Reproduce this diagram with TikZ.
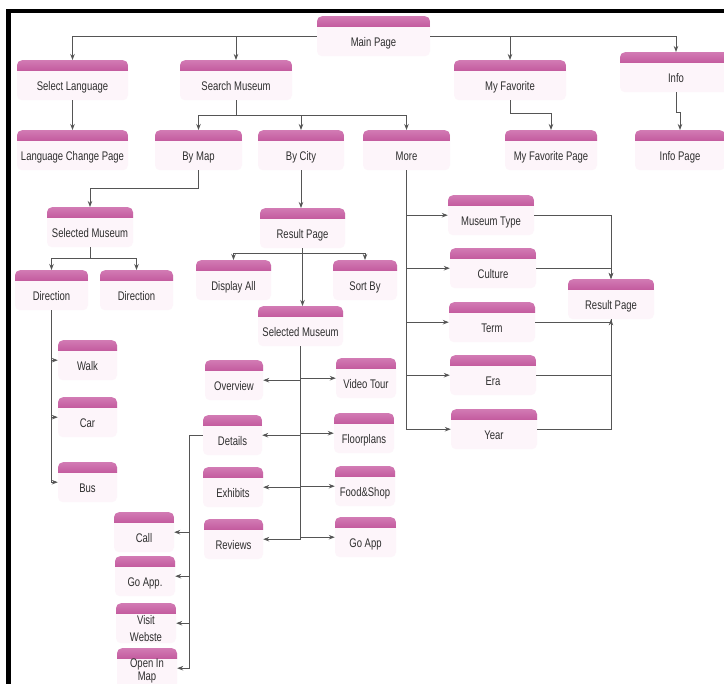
\documentclass[tikz,border=0pt]{standalone}
\usepackage{fontspec}
\newfontfamily\pagefont{Liberation Sans}[FakeStretch=0.76]
\usetikzlibrary{arrows.meta}
\definecolor{tabtop}{HTML}{D27AB4}
\definecolor{tabmid}{HTML}{B63F8A}
\definecolor{tabbot}{HTML}{7C2460}
\definecolor{pagebody}{HTML}{FDF5FA}
\definecolor{pagetext}{HTML}{2E2E2E}
\definecolor{linkcol}{HTML}{555555}
\tikzset{
  page/.style={anchor=north, rectangle, rounded corners=5pt, fill=pagebody,
    minimum height=40pt, inner ysep=0pt, inner xsep=1pt,
    text height=30pt, text depth=10pt, text=pagetext,
    font=\pagefont\fontsize{12.5}{15}\selectfont,
    path picture={\shade[sharp corners, top color=tabtop, bottom color=tabbot, middle color=tabmid]
      (path picture bounding box.north west) rectangle ([yshift=-10pt]path picture bounding box.north east);}},
  twoline/.style={text height=21.5pt, text depth=18.5pt},
  tightlines/.style={text height=19pt, text depth=21pt},
  link/.style={draw=linkcol, line width=0.9pt, -{Stealth[length=6pt,width=4.5pt]}},
  wire/.style={draw=linkcol, line width=0.9pt}
}
\newcommand{\twolines}[3][1.4pt]{\begin{tabular}[t]{@{}c@{}}#2\\[#1]#3\end{tabular}}
\begin{document}
\begin{tikzpicture}[x=1pt,y=-1pt]
\useasboundingbox (0,0) rectangle (724,684);
\fill[white] (0,0) rectangle (724,684);
\fill[black] (6,9) rectangle (11,684);
\fill[black] (6,9) rectangle (724,13);
% top levels
\node [page, minimum width=113pt] (main) at (373.5,16) {Main Page};
\node [page, minimum width=111pt] (sellang) at (72.5,60) {Select Language};
\node [page, minimum width=112pt] (search) at (236,60) {Search Museum};
\node [page, minimum width=112pt] (myfav) at (510,60) {My Favorite};
\node [page, minimum width=112pt] (info) at (676,52) {Info};
\node [page, minimum width=111pt] (langchange) at (72.5,130) {Language Change Page};
\node [page, minimum width=87pt] (bymap) at (198.5,130) {By Map};
\node [page, minimum width=86pt] (bycity) at (301,130) {By City};
\node [page, minimum width=87pt] (more) at (406.5,130) {More};
\node [page, minimum width=92pt] (myfavpage) at (551,130) {My Favorite Page};
\node [page, minimum width=90pt] (infopage) at (680,130) {Info Page};
% by map
\node [page, minimum width=86pt] (selmus1) at (90,207) {Selected Museum};
\node [page, minimum width=73pt] (dir1) at (51.5,270) {Direction};
\node [page, minimum width=73pt] (dir2) at (136.5,270) {Direction};
\node [page, minimum width=59pt] (walk) at (87.5,340) {Walk};
\node [page, minimum width=59pt] (car) at (87.5,397) {Car};
\node [page, minimum width=59pt] (bus) at (87.5,462) {Bus};
% by city
\node [page, minimum width=85pt] (result) at (302.5,208) {Result Page};
\node [page, minimum width=75pt] (displayall) at (233.5,260) {Display All};
\node [page, minimum width=64pt] (sortby) at (365,260) {Sort By};
\node [page, minimum width=85pt] (selmus2) at (300.5,306) {Selected Museum};
\node [page, minimum width=58pt] (overview) at (234,360) {Overview};
\node [page, minimum width=60pt] (videotour) at (366,358) {Video Tour};
\node [page, minimum width=59pt] (details) at (232.5,415) {Details};
\node [page, minimum width=60pt] (floorplans) at (364,413) {Floorplans};
\node [page, minimum width=60pt] (exhibits) at (233,467) {Exhibits};
\node [page, minimum width=60pt] (foodshop) at (365,466) {Food\&Shop};
\node [page, minimum width=59pt] (reviews) at (233.5,519) {Reviews};
\node [page, minimum width=61pt] (goapp) at (365.5,517) {Go App};
\node [page, minimum width=60pt] (call) at (144,512) {Call};
\node [page, minimum width=60pt] (goapp2) at (145,556) {Go App.};
\node [page, twoline, minimum width=60pt] (visit) at (146,603) {\twolines{Visit}{Webste}};
\node [page, tightlines, minimum width=60pt] (openin) at (147,648) {\twolines[-1.8pt]{Open In}{Map}};
% more
\node [page, minimum width=86pt] (museumtype) at (491,195) {Museum Type};
\node [page, minimum width=86pt] (culture) at (493,248) {Culture};
\node [page, minimum width=86pt] (term) at (492,302) {Term};
\node [page, minimum width=86pt] (era) at (493,355) {Era};
\node [page, minimum width=86pt] (year) at (494,409) {Year};
\node [page, minimum width=86pt] (result2) at (611,279) {Result Page};
% links
\draw[link] (main.west) -| (sellang.north);
\draw[link] (main.west) -| (search.north);
\draw[link] (main.east) -| (myfav.north);
\draw[link] (main.east) -| (info.north);
\draw[link] (sellang.south) -- (langchange.north);
\draw[link] (search.south) -- ++(0,15) -| (bymap.north);
\draw[link] (search.south) -- ++(0,15) -| (bycity.north);
\draw[link] (search.south) -- ++(0,15) -| (more.north);
\draw[link] (myfav.south) -- ++(0,13) -| (myfavpage.north);
\draw[link] (info.south) -- ++(0,20) -| (infopage.north);
\draw[link] (bymap.south) -- ++(0,18) -| (selmus1.north);
\draw[link] (selmus1.south) -- ++(0,11) -| (dir1.north);
\draw[link] (selmus1.south) -- ++(0,11) -| (dir2.north);
\draw[link] (dir1.south) |- (walk.west);
\draw[link] (dir1.south) |- (car.west);
\draw[link] (dir1.south) |- (bus.west);
\draw[link] (bycity.south) -- (bycity.south |- result.north);
\draw[link] (result.south) -- ++(0,5) -| (displayall.north);
\draw[link] (result.south) -- ++(0,5) -| (sortby.north);
\draw[link] (result.south) -- (result.south |- selmus2.north);
\draw[link] (selmus2.south) |- (overview.east);
\draw[link] (selmus2.south) |- (videotour.west);
\draw[link] (selmus2.south) |- (details.east);
\draw[link] (selmus2.south) |- (floorplans.west);
\draw[link] (selmus2.south) |- (exhibits.east);
\draw[link] (selmus2.south) |- (foodshop.west);
\draw[link] (selmus2.south) |- (reviews.east);
\draw[link] (selmus2.south) |- (goapp.west);
\draw[link] (details.west) -- ++(-13,0) |- (call.east);
\draw[link] (details.west) -- ++(-13,0) |- (goapp2.east);
\draw[link] (details.west) -- ++(-13,0) |- (visit.east);
\draw[link] (details.west) -- ++(-13,0) |- (openin.east);
\draw[link] (more.south) |- (museumtype.west);
\draw[link] (more.south) |- (culture.west);
\draw[link] (more.south) |- (term.west);
\draw[link] (more.south) |- (era.west);
\draw[link] (more.south) |- (year.west);
\draw[link] (museumtype.east) -| (result2.north);
\draw[link] (culture.east) -| (result2.north);
\draw[wire] (term.east) -| (result2.south);
\draw[wire] (era.east) -| (result2.south);
\draw[link] (year.east) -| (result2.south);
\end{tikzpicture}
\end{document}
